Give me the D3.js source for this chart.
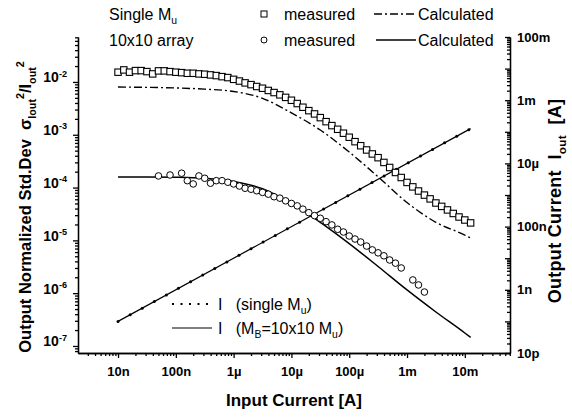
<!DOCTYPE html>
<html>
<head>
<meta charset="utf-8">
<script src="https://cdn.jsdelivr.net/npm/d3@7"></script>
<style>
  body { margin: 0; background: #fff; }
  text { font-family: "Liberation Sans", Arial, sans-serif; white-space: pre; }
</style>
</head>
<body>
<svg id="chart" width="572" height="418"></svg>
<script>
'use strict';

/* -- Data --------------------------------------------------------------- */
// single Mu, measured (squares)
const singleIin = [
  1.00e-8, 1.26e-8, 1.58e-8, 2.00e-8, 2.51e-8, 3.16e-8, 3.98e-8, 5.01e-8, 6.31e-8, 7.94e-8,
  1.00e-7, 1.26e-7, 1.58e-7, 2.00e-7, 2.51e-7, 3.16e-7, 3.98e-7, 5.01e-7, 6.31e-7, 7.94e-7,
  1.00e-6, 1.26e-6, 1.58e-6, 2.00e-6, 2.51e-6, 3.16e-6, 3.98e-6, 5.01e-6, 6.31e-6, 7.94e-6,
  1.00e-5, 1.26e-5, 1.58e-5, 2.00e-5, 2.51e-5, 3.16e-5, 3.98e-5, 5.01e-5, 6.31e-5, 7.94e-5,
  1.00e-4, 1.26e-4, 1.58e-4, 2.00e-4, 2.51e-4, 3.16e-4, 3.98e-4, 5.01e-4, 6.31e-4, 7.94e-4,
  1.00e-3, 1.26e-3, 1.58e-3, 2.00e-3, 2.51e-3, 3.16e-3, 3.98e-3, 5.01e-3, 6.31e-3, 7.94e-3,
  1.00e-2, 1.26e-2
];
const singleSigma = [
  1.53e-2, 1.69e-2, 1.53e-2, 1.64e-2, 1.64e-2, 1.57e-2, 1.42e-2, 1.62e-2, 1.62e-2, 1.57e-2,
  1.53e-2, 1.50e-2, 1.46e-2, 1.46e-2, 1.42e-2, 1.40e-2, 1.36e-2, 1.32e-2, 1.26e-2, 1.21e-2,
  1.12e-2, 1.04e-2, 9.6e-3, 8.9e-3, 8.2e-3, 7.6e-3, 6.9e-3, 6.3e-3, 5.7e-3, 5.1e-3,
  4.5e-3, 3.9e-3, 3.32e-3, 2.86e-3, 2.48e-3, 2.11e-3, 1.77e-3, 1.49e-3, 1.27e-3, 1.07e-3,
  8.97e-4, 7.4e-4, 6.2e-4, 5.15e-4, 4.33e-4, 3.68e-4, 2.99e-4, 2.40e-4, 1.93e-4, 1.55e-4,
  1.25e-4, 1.03e-4, 8.6e-5, 7.2e-5, 6.1e-5, 5.1e-5, 4.4e-5, 3.77e-5, 3.23e-5, 2.77e-5,
  2.43e-5, 2.14e-5
];

// 10x10 array, measured (circles)
const arrayIin = [
  5.01e-8, 7.94e-8, 1.26e-7, 1.58e-7, 2.00e-7, 2.51e-7, 3.16e-7, 3.98e-7, 5.01e-7, 6.31e-7, 7.94e-7,
  1.00e-6, 1.26e-6, 1.58e-6, 2.00e-6, 2.51e-6, 3.16e-6, 3.98e-6, 5.01e-6, 6.31e-6, 7.94e-6,
  1.00e-5, 1.26e-5, 1.58e-5, 2.00e-5, 2.51e-5, 3.16e-5, 3.98e-5, 5.01e-5, 6.31e-5, 7.94e-5,
  1.00e-4, 1.26e-4, 1.58e-4, 2.00e-4, 2.51e-4, 3.16e-4, 3.98e-4, 5.01e-4, 6.31e-4, 7.94e-4,
  1.26e-3, 1.58e-3, 2.00e-3
];
const arraySigma = [
  1.66e-4, 1.73e-4, 1.87e-4, 1.35e-4, 1.17e-4, 1.66e-4, 1.50e-4, 1.21e-4, 1.35e-4, 1.35e-4, 1.26e-4,
  1.17e-4, 1.07e-4, 9.7e-5, 9.3e-5, 8.7e-5, 8.1e-5, 7.5e-5, 6.7e-5, 6.3e-5, 5.6e-5,
  5.0e-5, 4.5e-5, 3.9e-5, 3.35e-5, 2.94e-5, 2.62e-5, 2.26e-5, 1.96e-5, 1.62e-5, 1.44e-5,
  1.21e-5, 1.06e-5, 9.3e-6, 7.8e-6, 6.6e-6, 5.8e-6, 5.1e-6, 4.25e-6, 3.7e-6, 3.0e-6,
  1.78e-6, 1.43e-6, 1.05e-6
];

// calculated curves (half-decade points)
const calcIin = [1e-8, 3.16e-8, 1e-7, 3.16e-7, 1e-6, 3.16e-6, 1e-5, 3.16e-5, 1e-4, 3.16e-4, 1e-3, 3.16e-3, 1e-2, 1.26e-2];
const singleCalc = [8.0e-3, 7.9e-3, 7.7e-3, 7.3e-3, 6.6e-3, 4.9e-3, 2.6e-3, 1.23e-3, 4.7e-4, 1.6e-4, 5.2e-5, 2.2e-5, 1.26e-5, 1.11e-5];
const arrayCalc = [1.59e-4, 1.59e-4, 1.57e-4, 1.50e-4, 1.30e-4, 9.5e-5, 5.0e-5, 2.2e-5, 8.7e-6, 3.2e-6, 1.15e-6, 4.4e-7, 1.76e-7, 1.45e-7];

// output current (right axis)
const outDotIin = [
  1.00e-8, 1.62e-8, 2.62e-8, 4.24e-8, 6.87e-8, 1.11e-7, 1.80e-7, 2.92e-7, 4.72e-7, 7.65e-7,
  1.24e-6, 2.00e-6, 3.24e-6, 5.25e-6, 8.50e-6, 1.38e-5, 2.23e-5, 3.61e-5, 5.84e-5, 9.46e-5,
  1.53e-4, 2.48e-4, 4.02e-4, 6.51e-4, 1.05e-3, 1.71e-3, 2.76e-3, 4.47e-3, 7.24e-3, 1.17e-2
];
const outDotIout = [
  1.00e-10, 1.62e-10, 2.62e-10, 4.24e-10, 6.87e-10, 1.11e-9, 1.80e-9, 2.92e-9, 4.72e-9, 7.65e-9,
  1.24e-8, 2.00e-8, 3.24e-8, 5.25e-8, 8.50e-8, 1.38e-7, 2.23e-7, 3.61e-7, 5.84e-7, 9.46e-7,
  1.53e-6, 2.48e-6, 4.02e-6, 6.51e-6, 1.05e-5, 1.71e-5, 2.76e-5, 4.47e-5, 7.24e-5, 1.17e-4
];
const outLineIin = [1e-8, 1.26e-2];
const outLineIout = [1e-10, 1.26e-4];

// tick labels
const xTickValues = [1e-8, 1e-7, 1e-6, 1e-5, 1e-4, 1e-3, 1e-2];
const xTickLabels = ['10n', '100n', '1µ', '10µ', '100µ', '1m', '10m'];
const yLeftTickValues = [1e-7, 1e-6, 1e-5, 1e-4, 1e-3, 1e-2];
const yLeftTickExps = ['-7', '-6', '-5', '-4', '-3', '-2'];
const yRightTickValues = [1e-11, 1e-10, 1e-9, 1e-8, 1e-7, 1e-6, 1e-5, 1e-4, 1e-3, 1e-2, 1e-1];
const yRightTickLabels = ['10p', '', '1n', '', '100n', '', '10µ', '', '1m', '', '100m'];

/* -- Layout ---------------------------------------------------------------- */
const plot = { left: 78, right: 510, top: 37, bottom: 353 };
const svg = d3.select('#chart');

const x = d3.scaleLog().domain([2.03e-9, 6.05e-2]).range([plot.left, plot.right]);
const yL = d3.scaleLog().domain([7.36e-8, 7.1e-2]).range([plot.bottom, plot.top]);
const yR = d3.scaleLog().domain([1e-11, 1e-1]).range([plot.bottom, plot.top]);

// minor ticks 2..9 of every decade inside a domain
const minorTicks = function(domain) {
    const out = [];
    const lo = Math.floor(Math.log10(domain[0])), hi = Math.ceil(Math.log10(domain[1]));
    for (let e = lo; e <= hi; e++) {
        for (let m = 2; m <= 9; m++) {
            const v = m * Math.pow(10, e);
            if (v >= domain[0] && v <= domain[1]) out.push(v);
        }
    }
    return out;
};

// text with sub/superscripts: parts = [[text, 'n'|'sub'|'sup'], ...]
const richText = function(sel, parts, size) {
    let shift = 0;
    parts.forEach(function(p) {
        const target = p[1] === 'sub' ? 0.28 * size : p[1] === 'sup' ? -0.42 * size : 0;
        sel.append('tspan')
            .attr('dy', target - shift)
            .attr('font-size', p[1] === 'n' ? size : size * 0.65)
            .text(p[0]);
        shift = target;
    });
};

const styleAxis = function(g) {
    g.selectAll('path, line').attr('stroke', '#000').attr('stroke-width', 1.3);
    g.selectAll('text').attr('fill', '#000').attr('font-weight', 'bold').attr('font-size', 13)
        .attr('font-family', '"Liberation Sans", Arial, sans-serif');
};

/* -- Bottom axis ----------------------------------------------------------- */
svg.append('g').attr('transform', 'translate(0,' + plot.bottom + ')')
    .call(d3.axisBottom(x).tickValues(minorTicks(x.domain())).tickSize(3).tickSizeOuter(0).tickFormat(''))
    .call(styleAxis);
svg.append('g').attr('transform', 'translate(0,' + plot.bottom + ')')
    .call(d3.axisBottom(x).tickValues(xTickValues).tickSize(5).tickSizeOuter(0).tickPadding(9)
        .tickFormat(function(d, i) { return xTickLabels[i]; }))
    .call(styleAxis);

/* -- Left axis ------------------------------------------------------------- */
svg.append('g').attr('transform', 'translate(' + plot.left + ',0)')
    .call(d3.axisLeft(yL).tickValues(minorTicks(yL.domain())).tickSize(3).tickSizeOuter(0).tickFormat(''))
    .call(styleAxis);
const leftAxis = svg.append('g').attr('transform', 'translate(' + plot.left + ',0)')
    .call(d3.axisLeft(yL).tickValues(yLeftTickValues).tickSize(5).tickSizeOuter(0).tickPadding(6)
        .tickFormat(''))
    .call(styleAxis);
leftAxis.selectAll('.tick text').each(function(d, i) {
    const t = d3.select(this).text('').attr('dy', '0.36em').attr('font-size', 14);
    richText(t, [['10', 'n'], [yLeftTickExps[i], 'sup']], 14);
});

/* -- Right axis (ticks point inside) --------------------------------------- */
svg.append('g').attr('transform', 'translate(' + plot.right + ',0)')
    .call(d3.axisRight(yR).tickValues(minorTicks(yR.domain())).tickSize(-3).tickSizeOuter(0).tickFormat(''))
    .call(styleAxis);
svg.append('g').attr('transform', 'translate(' + plot.right + ',0)')
    .call(d3.axisRight(yR).tickValues(yRightTickValues).tickSize(-5).tickSizeOuter(0).tickPadding(7)
        .tickFormat(function(d, i) { return yRightTickLabels[i]; }))
    .call(styleAxis);

/* -- Axis titles ----------------------------------------------------------- */
svg.append('text').attr('x', (plot.left + plot.right) / 2).attr('y', 406)
    .attr('text-anchor', 'middle').attr('font-weight', 'bold').attr('font-size', 17)
    .text('Input Current [A]');

const leftTitle = svg.append('text')
    .attr('transform', 'translate(31,207) rotate(-90)')
    .attr('text-anchor', 'middle').attr('font-weight', 'bold').attr('font-size', 16.5);
richText(leftTitle, [['Output Normalized Std.Dev  σ', 'n'], ['Iout', 'sub'], ['2', 'sup'],
    ['/I', 'n'], ['out', 'sub'], ['2', 'sup']], 16.5);

const rightTitle = svg.append('text')
    .attr('transform', 'translate(561,201) rotate(-90)')
    .attr('text-anchor', 'middle').attr('font-weight', 'bold').attr('font-size', 18)
    .attr('letter-spacing', 0.3);
richText(rightTitle, [['Output Current  I', 'n'], ['out', 'sub'], ['  [A]', 'n']], 18);

/* -- Series ---------------------------------------------------------------- */
const zip = function(a, b) { return a.map(function(v, i) { return [v, b[i]]; }); };

const lineL = d3.line().x(function(d) { return x(d[0]); }).y(function(d) { return yL(d[1]); })
    .curve(d3.curveMonotoneX);
const lineR = d3.line().x(function(d) { return x(d[0]); }).y(function(d) { return yR(d[1]); });

// output current lines
svg.append('path').datum(zip(outLineIin, outLineIout)).attr('d', lineR)
    .attr('fill', 'none').attr('stroke', '#000').attr('stroke-width', 1.2);
svg.append('g').selectAll('circle').data(zip(outDotIin, outDotIout)).enter().append('circle')
    .attr('cx', function(d) { return x(d[0]); }).attr('cy', function(d) { return yR(d[1]); })
    .attr('r', 1.5).attr('fill', '#000');

// calculated curves
svg.append('path').datum(zip(calcIin, singleCalc)).attr('d', lineL)
    .attr('fill', 'none').attr('stroke', '#000').attr('stroke-width', 1.4)
    .attr('stroke-dasharray', '8,3,2,3');
svg.append('path').datum(zip(calcIin, arrayCalc)).attr('d', lineL)
    .attr('fill', 'none').attr('stroke', '#000').attr('stroke-width', 1.5);

// measured squares
svg.append('g').selectAll('rect').data(zip(singleIin, singleSigma)).enter().append('rect')
    .attr('x', function(d) { return x(d[0]) - 3.2; }).attr('y', function(d) { return yL(d[1]) - 3.2; })
    .attr('width', 6.4).attr('height', 6.4)
    .attr('fill', '#fff').attr('stroke', '#000').attr('stroke-width', 1.1);

// measured circles
svg.append('g').selectAll('circle').data(zip(arrayIin, arraySigma)).enter().append('circle')
    .attr('cx', function(d) { return x(d[0]); }).attr('cy', function(d) { return yL(d[1]); })
    .attr('r', 3.3).attr('fill', '#fff').attr('stroke', '#000').attr('stroke-width', 1);

/* -- Top legend ------------------------------------------------------------ */
const legTop = svg.append('g').attr('font-size', 16);
richText(legTop.append('text').attr('x', 109).attr('y', 20), [['Single M', 'n'], ['u', 'sub']], 16);
legTop.append('text').attr('x', 109).attr('y', 46).text('10x10 array');
legTop.append('rect').attr('x', 261).attr('y', 11).attr('width', 6).attr('height', 6)
    .attr('fill', '#fff').attr('stroke', '#000');
legTop.append('circle').attr('cx', 264).attr('cy', 40).attr('r', 3)
    .attr('fill', '#fff').attr('stroke', '#000');
legTop.append('text').attr('x', 284).attr('y', 20).text('measured');
legTop.append('text').attr('x', 284).attr('y', 46).text('measured');
legTop.append('line').attr('x1', 374).attr('x2', 416).attr('y1', 14).attr('y2', 14)
    .attr('stroke', '#000').attr('stroke-width', 1.4).attr('stroke-dasharray', '8,3,2,3');
legTop.append('line').attr('x1', 376).attr('x2', 416).attr('y1', 40).attr('y2', 40)
    .attr('stroke', '#000').attr('stroke-width', 1.4);
legTop.append('text').attr('x', 418).attr('y', 20).text('Calculated');
legTop.append('text').attr('x', 418).attr('y', 46).text('Calculated');

/* -- Bottom legend --------------------------------------------------------- */
const legBot = svg.append('g').attr('font-size', 16);
legBot.append('line').attr('x1', 172).attr('x2', 212).attr('y1', 304).attr('y2', 304)
    .attr('stroke', '#000').attr('stroke-width', 2).attr('stroke-dasharray', '2,6.5');
legBot.append('line').attr('x1', 172).attr('x2', 212).attr('y1', 328).attr('y2', 328)
    .attr('stroke', '#000').attr('stroke-width', 1.2);
richText(legBot.append('text').attr('x', 218).attr('y', 310),
    [['I   (single M', 'n'], ['u', 'sub'], [')', 'n']], 16);
richText(legBot.append('text').attr('x', 218).attr('y', 334),
    [['I   (M', 'n'], ['B', 'sub'], ['=10x10 M', 'n'], ['u', 'sub'], [')', 'n']], 16);
</script>
</body>
</html>
